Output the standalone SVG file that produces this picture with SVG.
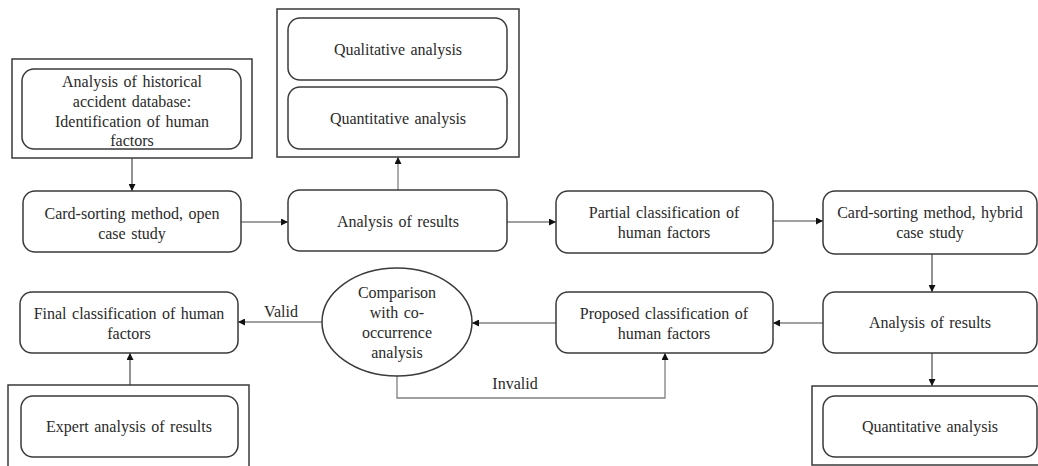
<svg xmlns="http://www.w3.org/2000/svg" width="1038" height="466" viewBox="0 0 1038 466">
<defs>
<style>
.frame{fill:none;stroke:#3a3a3a;stroke-width:1.5}
.box{fill:#fff;stroke:#3a3a3a;stroke-width:1.5}
.t{font-family:"Liberation Serif","Times New Roman",serif;font-size:16px;fill:#2a2a2a;text-anchor:middle;word-spacing:1.5px}
.c{fill:none;stroke:#808080;stroke-width:1.3}
.cd{fill:none;stroke:#4a4a4a;stroke-width:1.2}
</style>
<marker id="ah" viewBox="0 0 10 10" refX="10" refY="5" markerWidth="7" markerHeight="7" markerUnits="userSpaceOnUse" orient="auto">
<path d="M0,0 L10,5 L0,10 z" fill="#111"/>
</marker>
</defs>
<rect width="1038" height="466" fill="#fff"/>

<g id="connectors">
<path class="cd" d="M132,158 L132,191" marker-end="url(#ah)"/>
<path class="c" d="M241,222 L288,222" marker-end="url(#ah)"/>
<path class="c" d="M398,190 L398,157" marker-end="url(#ah)"/>
<path class="c" d="M507,222 L556,222" marker-end="url(#ah)"/>
<path class="c" d="M773,221 L823,221" marker-end="url(#ah)"/>
<path class="cd" d="M932,254 L932,292" marker-end="url(#ah)"/>
<path class="cd" d="M932,353 L932,386" marker-end="url(#ah)"/>
<path class="c" d="M823,323 L773,323" marker-end="url(#ah)"/>
<path class="c" d="M556,323 L472,323" marker-end="url(#ah)"/>
<path class="c" d="M322,322 L238,322" marker-end="url(#ah)"/>
<path class="c" d="M397,376 L397,398 L665,398 L665,353" marker-end="url(#ah)"/>
<path class="cd" d="M130,385 L130,353" marker-end="url(#ah)"/>
<text class="t" x="281" y="317">Valid</text>
<text class="t" x="515" y="389">Invalid</text>
</g>

<g id="group-history">
<rect class="frame" x="12" y="59" width="240" height="99"/>
<g id="n-history">
<rect class="box" x="22" y="69" width="219" height="80" rx="12"/>
<text class="t" x="132" y="87">Analysis of historical</text>
<text class="t" x="132" y="107">accident database:</text>
<text class="t" x="132" y="127">Identification of human</text>
<text class="t" x="132" y="146">factors</text>
</g>
</g>

<g id="n-card-open">
<rect class="box" x="23" y="191" width="218" height="61" rx="12"/>
<text class="t" x="132" y="219">Card-sorting method, open</text>
<text class="t" x="132" y="239">case study</text>
</g>

<g id="group-analysis-top">
<rect class="frame" x="277" y="9" width="242" height="148"/>
<g id="n-qualitative">
<rect class="box" x="288" y="18" width="219" height="62" rx="12"/>
<text class="t" x="398" y="55">Qualitative analysis</text>
</g>
<g id="n-quantitative-top">
<rect class="box" x="288" y="87" width="219" height="62" rx="12"/>
<text class="t" x="398" y="124">Quantitative analysis</text>
</g>
</g>

<g id="n-analysis-1">
<rect class="box" x="288" y="190" width="219" height="61" rx="12"/>
<text class="t" x="398" y="227">Analysis of results</text>
</g>

<g id="n-partial">
<rect class="box" x="556" y="191" width="217" height="62" rx="12"/>
<text class="t" x="664" y="218">Partial classification of</text>
<text class="t" x="664" y="238">human factors</text>
</g>

<g id="n-card-hybrid">
<rect class="box" x="823" y="191" width="214" height="63" rx="12"/>
<text class="t" x="930" y="218">Card-sorting method, hybrid</text>
<text class="t" x="930" y="238">case study</text>
</g>

<g id="n-analysis-2">
<rect class="box" x="823" y="292" width="214" height="61" rx="12"/>
<text class="t" x="930" y="328">Analysis of results</text>
</g>

<g id="group-quant-right">
<rect class="frame" x="812" y="386" width="230" height="79"/>
<g id="n-quantitative-right">
<rect class="box" x="823" y="396" width="214" height="61" rx="12"/>
<text class="t" x="930" y="432">Quantitative analysis</text>
</g>
</g>

<g id="n-proposed">
<rect class="box" x="556" y="292" width="217" height="61" rx="12"/>
<text class="t" x="664" y="319">Proposed classification of</text>
<text class="t" x="664" y="339">human factors</text>
</g>

<g id="n-comparison">
<ellipse class="box" cx="397" cy="322" rx="75" ry="54"/>
<text class="t" x="397" y="298">Comparison</text>
<text class="t" x="397" y="318">with co-</text>
<text class="t" x="397" y="338">occurrence</text>
<text class="t" x="397" y="358">analysis</text>
</g>

<g id="n-final">
<rect class="box" x="20" y="292" width="218" height="61" rx="12"/>
<text class="t" x="129" y="319">Final classification of human</text>
<text class="t" x="129" y="339">factors</text>
</g>

<g id="group-expert">
<rect class="frame" x="8" y="385" width="241" height="85"/>
<g id="n-expert">
<rect class="box" x="21" y="396" width="217" height="61" rx="12"/>
<text class="t" x="129" y="432">Expert analysis of results</text>
</g>
</g>
</svg>
